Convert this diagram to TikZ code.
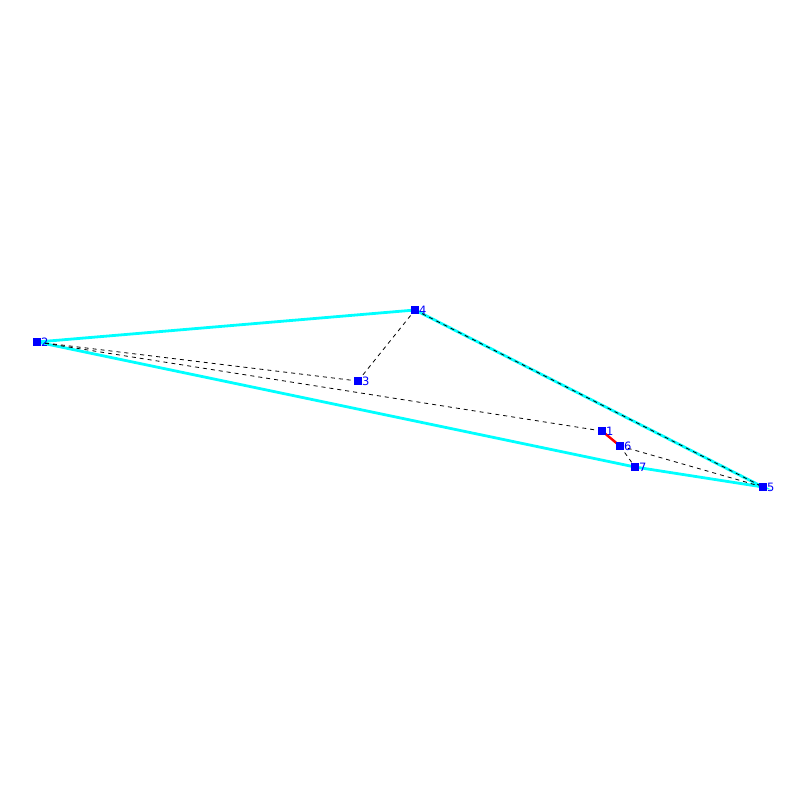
\documentclass[tikz,border=0pt]{standalone}
\usepackage{fontspec}
\setmainfont{DejaVu Sans}
\definecolor{hullcyan}{RGB}{0,255,255}
\definecolor{ptblue}{RGB}{0,0,255}
\definecolor{edgered}{RGB}{255,0,0}
\begin{document}
\begin{tikzpicture}[x=1pt,y=-1pt,
  pt/.style={fill=ptblue,minimum size=7.5pt,inner sep=0pt,outer sep=0pt,rectangle},
  lab/.style={text=ptblue,font=\fontsize{11.5}{13}\selectfont,inner sep=0pt,anchor=west,xshift=4pt},
  hull/.style={hullcyan,line width=2.8pt},
  dsh/.style={black,line width=0.8pt,dash pattern=on 4pt off 4pt},
  red edge/.style={edgered,line width=2.4pt}]
\useasboundingbox (0,0) rectangle (800,800);
\coordinate (p2) at (37,342);
\coordinate (p4) at (415,310);
\coordinate (p3) at (358,381);
\coordinate (p1) at (602,431);
\coordinate (p6) at (620,446);
\coordinate (p7) at (635,467);
\coordinate (p5) at (763,487);
% hull
\draw[hull] (p2) -- (p4) -- (p5) -- (p7) -- (p2);
% dashed
\draw[dsh] (p2) -- (p3);
\draw[dsh] (p3) -- (p4);
\draw[dsh] (p2) -- (p1);
\draw[dsh] (p4) -- (p5);
\draw[dsh] (p6) -- (p7);
\draw[dsh] (p6) -- (p5);
% red
\draw[red edge] (p1) -- (p6);
% markers
\foreach \n in {1,...,7} {
  \node[pt] (n\n) at (p\n) {};
  \node[lab] (l\n) at (p\n) {\n};
}
\end{tikzpicture}
\end{document}
